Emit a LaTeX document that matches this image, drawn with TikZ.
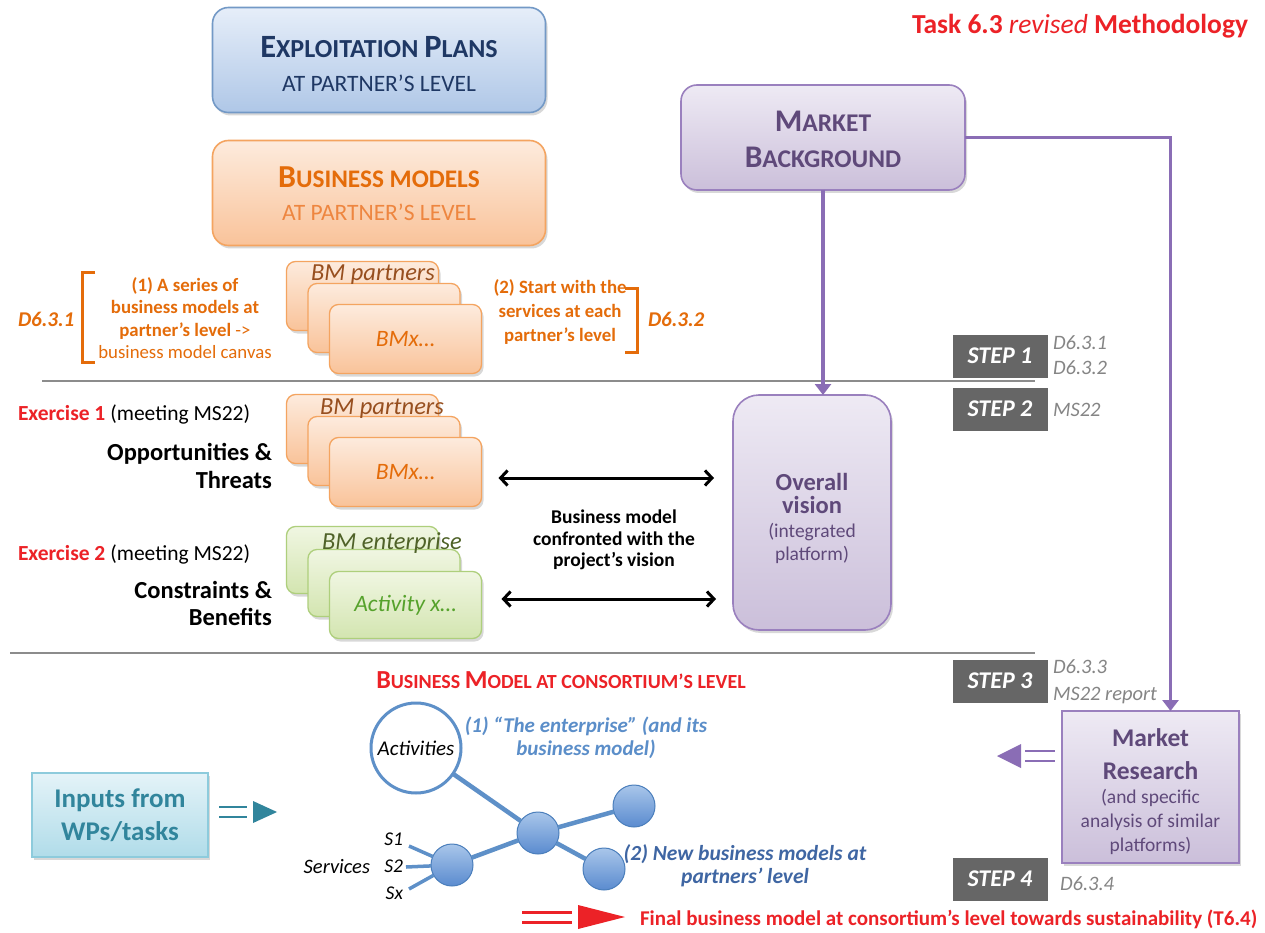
\documentclass[tikz,border=0pt]{standalone}
\usepackage{fontspec}
\setmainfont{Carlito}
\usetikzlibrary{arrows.meta,shadows,calc}

\newcommand\fz[2]{\fontsize{#1pt}{#2pt}\selectfont}

\definecolor{navy}{HTML}{1F3864}
\definecolor{epT}{HTML}{E6EEF9}
\definecolor{epB}{HTML}{AFC7E7}
\definecolor{epD}{HTML}{7399C6}
\definecolor{orT}{HTML}{FDEBDD}
\definecolor{orB}{HTML}{F9C39A}
\definecolor{orD}{HTML}{F4A460}
\definecolor{orTxt}{HTML}{E46C0A}
\definecolor{orTxtL}{HTML}{EE8640}
\definecolor{brownTxt}{HTML}{974F1F}
\definecolor{grT}{HTML}{F0F6E2}
\definecolor{grB}{HTML}{D3E5B0}
\definecolor{grD}{HTML}{AECF7C}
\definecolor{grTxt}{HTML}{56A22C}
\definecolor{grDark}{HTML}{4F6228}
\definecolor{puT}{HTML}{EEEAF4}
\definecolor{puB}{HTML}{CBBFDA}
\definecolor{puD}{HTML}{9A80BE}
\definecolor{puTxt}{HTML}{5F497A}
\definecolor{puLine}{HTML}{8A6DB5}
\definecolor{stepGray}{HTML}{666666}
\definecolor{labGray}{HTML}{858585}
\definecolor{redTxt}{HTML}{EC2227}
\definecolor{blueA}{HTML}{5B8EC9}
\definecolor{blueB}{HTML}{3F66A3}
\definecolor{ballT}{HTML}{A9C6EA}
\definecolor{ballB}{HTML}{5A8BCF}
\definecolor{ballD}{HTML}{4A7EBB}
\definecolor{edgeBlue}{HTML}{5E90C8}
\definecolor{tlT}{HTML}{E4F3F8}
\definecolor{tlB}{HTML}{B0DCE9}
\definecolor{tlD}{HTML}{8DCBDC}
\definecolor{tlTxt}{HTML}{31859C}
\definecolor{sepGray}{HTML}{8C8C8C}

\tikzset{
  shadowed/.style={drop shadow={shadow xshift=2pt, shadow yshift=-3pt, opacity=0.3}},
  bigbox/.style={rounded corners=16pt, line width=1.6pt, shadowed},
  stackor/.style={rounded corners=9pt, draw=orD, line width=1.3pt, top color=orT, bottom color=orB,
    minimum width=152pt, minimum height=69pt, shadowed},
  stackgr/.style={rounded corners=9pt, draw=grD, line width=1.3pt, top color=grT, bottom color=grB,
    minimum width=152pt, minimum height=67pt, shadowed},
  stepbox/.style={fill=stepGray, minimum width=95pt, minimum height=43pt, text=white,
    font=\bfseries\itshape\fz{24}{26}},
  steplbl/.style={anchor=base west, text=labGray, font=\itshape\fz{20.5}{22}},
  sepline/.style={draw=sepGray, line width=1.6pt},
  bracket/.style={draw=orTxt, line width=3pt},
  purarrow/.style={draw=puLine, line width=3.5pt, -{Triangle[width=16pt,length=11pt]}},
  bmarrow/.style={line width=3pt, {Straight Barb[width=15pt,length=7pt]}-{Straight Barb[width=15pt,length=7pt]}},
  ball/.style={circle, minimum size=42pt, top color=ballT, bottom color=ballB, draw=ballD, line width=1pt},
  edge/.style={draw=edgeBlue, line width=4.5pt},
  svcedge/.style={draw=edgeBlue, line width=3.5pt},
}

\begin{document}
\begin{tikzpicture}[x=1pt, y=-1pt, every node/.style={inner sep=0pt, outer sep=0pt}]
\fill[white] (0,0) rectangle (1265,933);
\path[use as bounding box] (0,0) rectangle (1265,933);

% heading
\node[anchor=base east, text=redTxt, font=\bfseries\fz{27.5}{30}] (title) at (1248,34)
  {Task 6.3 {\mdseries\itshape revised} Methodology};

% partner-level boxes
\node[bigbox, draw=epD, top color=epT, bottom color=epB, minimum width=333pt, minimum height=105pt] (ep) at (379,60) {};
\node[text=navy, align=center, font=\fz{23.5}{34}] (epText) at ($(ep.center)+(0,4)$)
  {{\bfseries\fz{32.5}{34}E\fz{26}{34}XPLOITATION \fz{32.5}{34}P\fz{26}{34}LANS}\\AT PARTNER’S LEVEL};
\node[bigbox, draw=orD, top color=orT, bottom color=orB, minimum width=333pt, minimum height=105pt] (bm) at (379,193) {};
\node[text=orTxtL, align=center, font=\fz{23.5}{33}] (bmText) at ($(bm.center)+(0,1)$)
  {{\color{orTxt}\bfseries\fz{32}{33}B\fz{25.3}{33}USINESS MODELS}\\AT PARTNER’S LEVEL};

% market background
\node[bigbox, draw=puD, top color=puT, bottom color=puB, minimum width=284pt, minimum height=105pt] (mb) at (823,137.5) {};
\node[text=puTxt, align=center, font=\bfseries\fz{25.5}{36}] (mbText) at ($(mb.center)+(0,2)$)
  {{\fz{31.5}{36}M}ARKET\\{\fz{31.5}{36}B}ACKGROUND};

% steps
\node[stepbox] (st1) at (1000,356) {STEP 1};
\node[stepbox] (st2) at (1000,409) {STEP 2};
\node[stepbox] (st3) at (1000,681) {STEP 3};
\node[stepbox] (st4) at (1000,879) {STEP 4};
\node[steplbl] (l631) at (1053,349) {D6.3.1};
\node[steplbl] (l632) at (1053,374) {D6.3.2};
\node[steplbl] (lms2) at (1053,416) {MS22};
\node[steplbl] (l633) at (1053,673) {D6.3.3};
\node[steplbl] (lms3) at (1053,700) {MS22 report};
\node[steplbl] (l634) at (1060,890) {D6.3.4};

% separators
\draw[sepline] (42,381) -- (1035,381);
\draw[sepline] (10,653) -- (1035,653);

% step 1 : partner business models
\node[anchor=base west, text=orTxt, font=\bfseries\itshape\fz{21}{22}] (d631) at (18,326) {D6.3.1};
\draw[bracket] (95,272) -- (82,272) -- (82,362) -- (95,362);
\node[text=orTxt, font=\bfseries\fz{18.8}{22.5}, align=center] (t1) at (185,318)
  {(1) A series of\\business models at\\partner’s level {\mdseries ->}\\{\mdseries business model canvas}};
\node[stackor] (a1) at (362.5,296) {};
\node[stackor] (a2) at (384,318) {};
\node[stackor] (a3) at (405.5,339) {\color{orTxt}\itshape\fz{23.5}{26}BMx…};
\node[anchor=base, text=brownTxt, font=\itshape\fz{24.5}{26}] (a1t) at (373,280) {BM partners};
\node[text=orTxt, font=\bfseries\fz{18.8}{24}, align=center] (t2) at (560,312)
  {(2) Start with the\\services at each\\partner’s level};
\draw[bracket] (625,288) -- (637,288) -- (637,352) -- (625,352);
\node[anchor=base west, text=orTxt, font=\bfseries\itshape\fz{21}{22}] (d632) at (648,326) {D6.3.2};

% step 2 : exercises
\node[anchor=base west, font=\fz{21.5}{23}] (ex1) at (18,420)
  {{\color{redTxt}\bfseries Exercise 1} (meeting MS22)};
\node[anchor=east, font=\bfseries\fz{24.5}{28}, align=right] (ot) at (272,466)
  {Opportunities \&\\Threats};
\node[stackor] (b1) at (362.5,429) {};
\node[stackor] (b2) at (384,451) {};
\node[stackor] (b3) at (405.5,472) {\color{orTxt}\itshape\fz{23.5}{26}BMx…};
\node[anchor=base, text=brownTxt, font=\itshape\fz{24.5}{26}] (b1t) at (382,414) {BM partners};

\node[anchor=base west, font=\fz{21.5}{23}] (ex2) at (18,560)
  {{\color{redTxt}\bfseries Exercise 2} (meeting MS22)};
\node[anchor=east, font=\bfseries\fz{24.5}{27}, align=right] (cb) at (272,603)
  {Constraints \&\\Benefits};
\node[stackgr] (c1) at (362.5,560) {};
\node[stackgr] (c2) at (384,583) {};
\node[stackgr] (c3) at (405.5,605) {\color{grTxt}\itshape\fz{23.5}{26}Activity x…};
\node[anchor=base, text=grDark, font=\itshape\fz{24.5}{26}] (c1t) at (392,549) {BM enterprise};

% overall vision
\node[rounded corners=26pt, line width=1.6pt, shadowed, draw=puD, top color=puT, bottom color=puB,
  minimum width=158pt, minimum height=235pt] (ov) at (812,512.5) {};
\node[text=puTxt, align=center, font=\fz{19.5}{23.5}] (ovText) at ($(ov.center)+(0,6)$)
  {{\bfseries\fz{24.5}{23.5}Overall}\\{\bfseries\fz{24.5}{23.5}vision}\\(integrated\\platform)};

\node[font=\bfseries\fz{19.5}{21.5}, align=center] (conf) at (614,540)
  {Business model\\confronted with the\\project’s vision};
\draw[bmarrow] ($(b3.east)+(17,6)$) -- ($(b3.east -| ov.west)+(-19,6)$);
\draw[bmarrow] ($(c3.east)+(20,-6)$) -- ($(c3.east -| ov.west)+(-17,-6)$);

% market research
\node[line width=1.6pt, shadowed, draw=puD, top color=puT, bottom color=puB,
  minimum width=177pt, minimum height=152pt] (mr) at (1150.5,787) {};
\node[text=puTxt, align=center, font=\fz{19.5}{24}] (mrText) at ($(mr.center)+(0,5)$)
  {{\bfseries\fz{25.5}{24}Market}\\[9pt]{\bfseries\fz{25.5}{24}Research}\\(and specific\\analysis of similar\\platforms)};

% purple connectors
\draw[purarrow] (mb.south) -- (mb.south |- ov.north);
\draw[purarrow] (mb.east) -| ($(mr.north)+(20,0)$);

% feedback arrow from market research
\draw[puLine, line width=2.2pt] (1025,751) -- (1055,751) (1025,761) -- (1055,761);
\fill[puLine] (997,756) -- (1021,744) -- (1021,768) -- cycle;

% step 3 : business model at consortium level
\node[text=redTxt, font=\bfseries\fz{20}{22}] (bmc) at (561,680)
  {{\fz{26}{22}B}USINESS {\fz{26}{22}M}ODEL AT CONSORTIUM’S LEVEL};

\node[circle, minimum size=90pt, draw=edgeBlue, line width=3pt, fill=white,
  font=\itshape\fz{21}{22}] (act) at (416,748) {Activities};
\node[ball] (na) at (538,833) {};
\node[ball] (nb) at (634,806) {};
\node[ball] (nc) at (604,869) {};
\node[ball] (nd) at (452,865) {};
\draw[edge] (act) -- (na);
\draw[edge] (na) -- (nb);
\draw[edge] (na) -- (nc);
\draw[edge] (nd) -- (na);

\coordinate (s1) at (409,846);
\coordinate (s2) at (406,867);
\coordinate (sx) at (409,889);
\draw[svcedge] (s1) -- (nd);
\draw[svcedge] (s2) -- (nd);
\draw[svcedge] (sx) -- (nd);
\node[anchor=base east, font=\itshape\fz{19.5}{20}] (ls1) at (403,845) {S1};
\node[anchor=base east, font=\itshape\fz{19.5}{20}] (ls2) at (403,872) {S2};
\node[anchor=base east, font=\itshape\fz{19.5}{20}] (lsx) at (403,899) {Sx};
\node[anchor=base east, font=\itshape\fz{20.5}{22}] (lsv) at (370,873) {Services};

\node[text=blueA, font=\bfseries\itshape\fz{21}{23}, align=center] (ent) at (586,738)
  {(1) “The enterprise” (and its\\business model)};
\node[text=blueB, font=\bfseries\itshape\fz{21.5}{23}, align=center] (nbm) at (745,866)
  {(2) New business models at\\partners’ level};

% inputs
\node[line width=1.4pt, shadowed, draw=tlD, top color=tlT, bottom color=tlB,
  minimum width=176pt, minimum height=84pt, text=tlTxt, align=center, font=\bfseries\fz{27}{33}] (in) at (120,815)
  {Inputs from\\WPs/tasks};
\draw[tlTxt, line width=2.2pt] (219,807) -- (247,807) (219,817) -- (247,817);
\fill[tlTxt] (253,801) -- (277,812) -- (253,823) -- cycle;

% final outcome
\draw[redTxt, line width=3pt] (522,912) -- (572,912) (522,922) -- (572,922);
\fill[redTxt] (578,905) -- (625,917) -- (578,929) -- cycle;
\node[anchor=base west, text=redTxt, font=\bfseries\fz{21}{22}] (final) at (640,925)
  {Final business model at consortium’s level towards sustainability (T6.4)};
\end{tikzpicture}
\end{document}
